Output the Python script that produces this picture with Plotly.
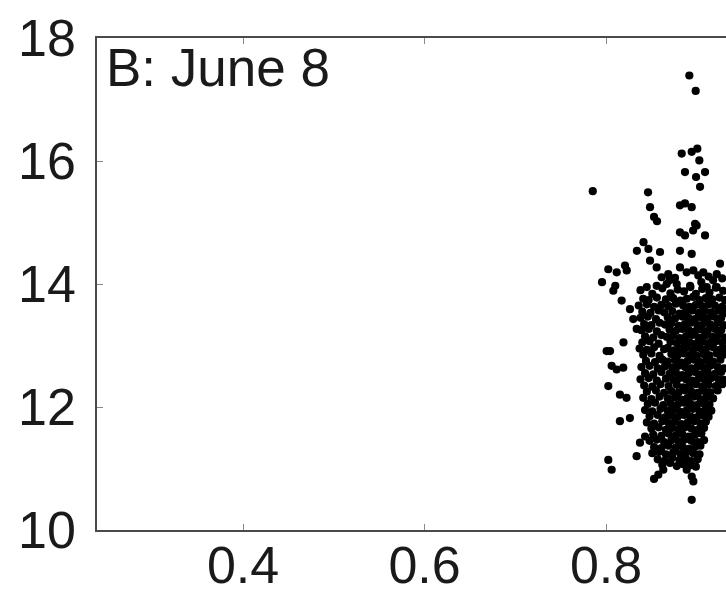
import plotly.graph_objects as go

# ---- data ----
# sparse points above the main cloud
upper_x = [0.8918, 0.8988, 0.7854, 0.8463, 0.8485, 0.8529, 0.8562, 0.8815, 0.8870, 0.8944,
           0.8834, 0.8944, 0.9006, 0.9028, 0.8870, 0.8992, 0.9091, 0.9036, 0.8981, 0.8815,
           0.8870, 0.8959, 0.8999, 0.9091, 0.8413, 0.8340, 0.8467, 0.8595, 0.8815, 0.8944,
           0.8485, 0.8558, 0.8686, 0.8613, 0.8815, 0.8889, 0.8962, 0.9017, 0.9072, 0.9256,
           0.9220, 0.8025, 0.8118, 0.8209, 0.8228, 0.7956, 0.8102, 0.8449, 0.8558, 0.8668,
           0.8779, 0.8926, 0.9110, 0.9220, 0.9050, 0.9180, 0.9280, 0.9130, 0.8700, 0.8760]
upper_y = [17.39, 17.14, 15.51, 15.49, 15.25, 15.09, 15.02, 15.28, 15.31, 15.25,
           16.12, 16.15, 16.20, 16.01, 15.82, 15.74, 15.82, 15.58, 14.98, 14.84,
           14.79, 14.87, 14.95, 14.79, 14.68, 14.54, 14.57, 14.52, 14.54, 14.49,
           14.38, 14.27, 14.16, 14.11, 14.27, 14.19, 14.22, 14.14, 14.19, 14.33,
           14.16, 14.24, 14.19, 14.30, 14.22, 14.03, 13.97, 13.95, 13.97, 14.00,
           14.00, 13.97, 13.95, 13.95, 14.03, 14.06, 14.09, 14.12, 14.06, 14.10]

# scattered points on the left flank and the lower tail
flank_x = [0.8172, 0.8080, 0.8264, 0.8300, 0.8338, 0.8007, 0.8044, 0.8192, 0.8025, 0.8062,
           0.8117, 0.8190, 0.8153, 0.8226, 0.8153, 0.8263, 0.8374, 0.8337, 0.8430, 0.8025,
           0.8062, 0.8576, 0.8631, 0.8705, 0.8889, 0.8944, 0.8962, 0.8944, 0.8529]
flank_y = [13.73, 13.89, 13.59, 13.43, 13.27, 12.91, 12.91, 13.05, 12.34, 12.67,
           12.61, 12.64, 12.20, 12.15, 11.77, 11.82, 11.42, 11.20, 11.52, 11.14,
           10.98, 10.90, 10.98, 11.09, 10.98, 10.87, 10.79, 10.49, 10.83]

# dense core of the cloud
core_x = [
    0.838, 0.851, 0.862, 0.871, 0.879, 0.886, 0.893, 0.899, 0.906, 0.914, 0.921, 0.929,
    0.841, 0.847, 0.856, 0.866, 0.874, 0.882, 0.889, 0.896, 0.903, 0.910, 0.917, 0.925, 0.931,
    0.836, 0.845, 0.853, 0.861, 0.869, 0.877, 0.885, 0.892, 0.899, 0.906, 0.913, 0.920, 0.928,
    0.840, 0.849, 0.858, 0.864, 0.873, 0.881, 0.888, 0.895, 0.902, 0.909, 0.916, 0.924, 0.931,
    0.838, 0.846, 0.855, 0.868, 0.876, 0.884, 0.891, 0.898, 0.905, 0.912, 0.919, 0.927,
    0.842, 0.850, 0.859, 0.865, 0.872, 0.880, 0.887, 0.894, 0.901, 0.908, 0.915, 0.923, 0.930,
    0.839, 0.847, 0.856, 0.870, 0.877, 0.884, 0.891, 0.898, 0.905, 0.912, 0.920, 0.927,
    0.843, 0.852, 0.861, 0.867, 0.874, 0.881, 0.888, 0.895, 0.902, 0.909, 0.917, 0.924, 0.931,
    0.840, 0.848, 0.858, 0.871, 0.878, 0.885, 0.892, 0.899, 0.906, 0.913, 0.921, 0.928,
    0.837, 0.845, 0.853, 0.864, 0.868, 0.875, 0.882, 0.889, 0.896, 0.903, 0.910, 0.918, 0.925, 0.931,
    0.841, 0.850, 0.859, 0.872, 0.879, 0.886, 0.893, 0.900, 0.907, 0.914, 0.922, 0.929,
    0.844, 0.854, 0.862, 0.868, 0.876, 0.883, 0.890, 0.897, 0.904, 0.911, 0.918, 0.926,
    0.839, 0.848, 0.857, 0.865, 0.873, 0.880, 0.887, 0.894, 0.901, 0.908, 0.915, 0.923, 0.930,
    0.843, 0.852, 0.861, 0.870, 0.877, 0.884, 0.891, 0.898, 0.905, 0.912, 0.920, 0.927,
    0.838, 0.847, 0.856, 0.866, 0.874, 0.881, 0.888, 0.895, 0.902, 0.909, 0.916, 0.924, 0.930,
    0.842, 0.851, 0.860, 0.869, 0.878, 0.885, 0.892, 0.899, 0.906, 0.913, 0.921, 0.928,
    0.845, 0.855, 0.864, 0.872, 0.880, 0.887, 0.894, 0.901, 0.908, 0.915, 0.923,
    0.841, 0.850, 0.859, 0.868, 0.876, 0.883, 0.890, 0.897, 0.904, 0.911, 0.918,
    0.846, 0.854, 0.863, 0.871, 0.879, 0.886, 0.893, 0.900, 0.907, 0.914,
    0.843, 0.851, 0.860, 0.868, 0.875, 0.882, 0.889, 0.896, 0.903, 0.910, 0.916,
    0.848, 0.857, 0.865, 0.872, 0.879, 0.886, 0.893, 0.900, 0.907, 0.913,
    0.845, 0.853, 0.862, 0.869, 0.876, 0.883, 0.890, 0.897, 0.904, 0.910,
    0.850, 0.858, 0.866, 0.873, 0.880, 0.887, 0.894, 0.901, 0.908,
    0.852, 0.861, 0.869, 0.877, 0.884, 0.891, 0.898, 0.905,
    0.848, 0.856, 0.864, 0.872, 0.880, 0.887, 0.894, 0.901, 0.908,
    0.853, 0.861, 0.869, 0.877, 0.884, 0.891, 0.898, 0.904,
    0.851, 0.858, 0.866, 0.874, 0.882, 0.889, 0.896, 0.903,
    0.857, 0.865, 0.873, 0.881, 0.888, 0.894, 0.901,
    0.862, 0.878, 0.885, 0.892, 0.899,
]
core_y = [
    13.90, 13.84, 13.93, 13.85, 13.91, 13.88, 13.95, 13.84, 13.92, 13.86, 13.94, 13.89,
    13.76, 13.74, 13.78, 13.75, 13.77, 13.73, 13.76, 13.79, 13.74, 13.77, 13.75, 13.78, 13.74,
    13.65, 13.67, 13.63, 13.66, 13.64, 13.68, 13.65, 13.63, 13.66, 13.64, 13.67, 13.65, 13.63,
    13.55, 13.53, 13.57, 13.54, 13.56, 13.52, 13.55, 13.57, 13.53, 13.56, 13.54, 13.57, 13.53,
    13.45, 13.47, 13.43, 13.46, 13.44, 13.47, 13.45, 13.43, 13.46, 13.44, 13.47, 13.45,
    13.35, 13.33, 13.37, 13.34, 13.36, 13.32, 13.35, 13.37, 13.33, 13.36, 13.34, 13.37, 13.33,
    13.25, 13.27, 13.23, 13.26, 13.24, 13.27, 13.25, 13.23, 13.26, 13.24, 13.27, 13.25,
    13.15, 13.13, 13.17, 13.14, 13.16, 13.12, 13.15, 13.17, 13.13, 13.16, 13.14, 13.17, 13.13,
    13.05, 13.07, 13.03, 13.06, 13.04, 13.07, 13.05, 13.03, 13.06, 13.04, 13.07, 13.05,
    12.95, 12.93, 12.97, 12.94, 12.96, 12.92, 12.95, 12.97, 12.93, 12.96, 12.94, 12.97, 12.93, 12.95,
    12.85, 12.87, 12.83, 12.86, 12.84, 12.87, 12.85, 12.83, 12.86, 12.84, 12.87, 12.85,
    12.75, 12.73, 12.77, 12.74, 12.76, 12.72, 12.75, 12.77, 12.73, 12.76, 12.74, 12.77,
    12.65, 12.67, 12.63, 12.66, 12.64, 12.67, 12.65, 12.63, 12.66, 12.64, 12.67, 12.65, 12.63,
    12.55, 12.53, 12.57, 12.54, 12.56, 12.52, 12.55, 12.57, 12.53, 12.56, 12.54, 12.57,
    12.45, 12.47, 12.43, 12.46, 12.44, 12.47, 12.45, 12.43, 12.46, 12.44, 12.47, 12.45, 12.44,
    12.35, 12.33, 12.37, 12.34, 12.36, 12.32, 12.35, 12.37, 12.33, 12.36, 12.34, 12.37,
    12.25, 12.27, 12.23, 12.26, 12.24, 12.27, 12.25, 12.23, 12.26, 12.24, 12.27,
    12.15, 12.13, 12.17, 12.14, 12.16, 12.12, 12.15, 12.17, 12.13, 12.16, 12.14,
    12.05, 12.07, 12.03, 12.06, 12.04, 12.07, 12.05, 12.03, 12.06, 12.04,
    11.95, 11.93, 11.97, 11.94, 11.96, 11.92, 11.95, 11.97, 11.93, 11.96, 11.94,
    11.85, 11.87, 11.83, 11.86, 11.84, 11.87, 11.85, 11.83, 11.86, 11.84,
    11.75, 11.73, 11.77, 11.74, 11.76, 11.72, 11.75, 11.77, 11.73, 11.76,
    11.65, 11.67, 11.63, 11.66, 11.64, 11.67, 11.65, 11.63, 11.66,
    11.55, 11.53, 11.57, 11.54, 11.56, 11.52, 11.55, 11.57,
    11.45, 11.47, 11.43, 11.46, 11.44, 11.47, 11.45, 11.43, 11.46,
    11.35, 11.33, 11.37, 11.34, 11.36, 11.32, 11.35, 11.37,
    11.25, 11.27, 11.23, 11.26, 11.24, 11.27, 11.25, 11.23,
    11.15, 11.13, 11.17, 11.14, 11.16, 11.12, 11.15,
    11.06, 11.04, 11.07, 11.05, 11.03,
]

x_ticks = [0.4, 0.6, 0.8]
y_ticks = [10, 12, 14, 16, 18]
panel_label = "B: June 8"

assert len(upper_x) == len(upper_y)
assert len(flank_x) == len(flank_y)
assert len(core_x) == len(core_y), (len(core_x), len(core_y))

all_x = upper_x + flank_x + core_x
all_y = upper_y + flank_y + core_y

FONT = "Liberation Sans, Arial, Helvetica, sans-serif"
AXCOL = "#4a4a4a"

fig = go.Figure()
fig.add_trace(go.Scatter(
    x=all_x, y=all_y, mode="markers",
    marker=dict(color="black", size=8.2, line=dict(width=0)),
    showlegend=False, hoverinfo="skip",
))

fig.update_layout(
    width=726, height=606,
    margin=dict(l=97, r=0, t=38, b=76, pad=0, autoexpand=False),
    paper_bgcolor="white", plot_bgcolor="white",
    font=dict(family=FONT, color="#1a1a1a", size=52),
    xaxis=dict(
        range=[0.2391, 0.9322], tickvals=x_ticks, ticktext=[f"{v:.1f}" for v in x_ticks],
        showgrid=False, zeroline=False, showline=True, linecolor=AXCOL, linewidth=1.5,
        mirror="ticks", ticks="inside", ticklen=6, tickcolor="#888888", tickwidth=1,
        tickfont=dict(family=FONT, size=52, color="#1a1a1a"), ticklabelstandoff=-11,
        automargin=False,
    ),
    yaxis=dict(
        range=[10, 18], tickvals=y_ticks, ticktext=[str(v) for v in y_ticks],
        showgrid=False, zeroline=False, showline=True, linecolor=AXCOL, linewidth=1.5,
        mirror=False, ticks="inside", ticklen=6, tickcolor="#888888", tickwidth=1,
        tickfont=dict(family=FONT, size=52, color="#1a1a1a"), ticklabelstandoff=9,
        automargin=False,
    ),
    annotations=[dict(
        text=panel_label, xref="paper", yref="paper", x=0.0159, y=1.0,
        xanchor="left", yanchor="top", showarrow=False, yshift=2, xshift=-3,
        font=dict(family=FONT, size=53, color="#1a1a1a"),
    )],
)

fig.write_html("out.html")
